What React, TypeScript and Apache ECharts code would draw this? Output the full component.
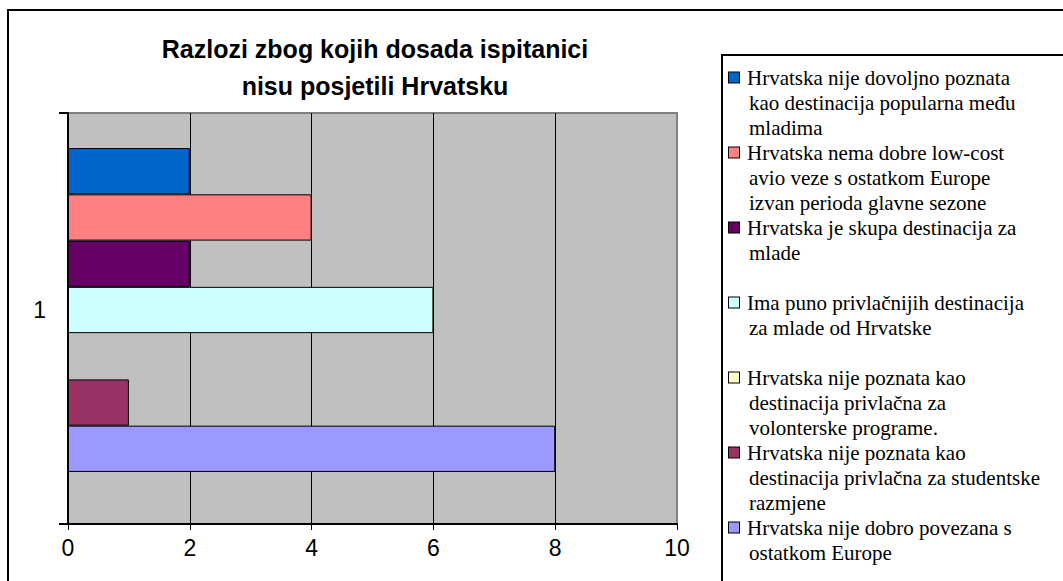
import React, { useEffect, useRef } from "react";
import * as echarts from "echarts";

const categories = ["1"];
const seriesNames = [
  "Hrvatska nije dovoljno poznata kao destinacija popularna među mladima",
  "Hrvatska nema dobre low-cost avio veze s ostatkom Europe izvan perioda glavne sezone",
  "Hrvatska je skupa destinacija za mlade",
  "Ima puno privlačnijih destinacija za mlade od Hrvatske",
  "Hrvatska nije poznata kao destinacija privlačna za volonterske programe.",
  "Hrvatska nije poznata kao destinacija privlačna za studentske razmjene",
  "Hrvatska nije dobro povezana s ostatkom Europe",
];
const legendLines = [
  ["Hrvatska nije dovoljno poznata", "kao destinacija popularna među", "mladima"],
  ["Hrvatska nema dobre low-cost", "avio veze s ostatkom Europe", "izvan perioda glavne sezone"],
  ["Hrvatska je skupa destinacija za", "mlade"],
  ["Ima puno privlačnijih destinacija", "za mlade od Hrvatske"],
  ["Hrvatska nije poznata kao", "destinacija privlačna za", "volonterske programe."],
  ["Hrvatska nije poznata kao", "destinacija privlačna za studentske", "razmjene"],
  ["Hrvatska nije dobro povezana s", "ostatkom Europe"],
];
const values = [2, 4, 2, 6, 0, 1, 8];
const colors = ["#0066CC", "#FF8080", "#660066", "#CCFFFF", "#FFFFCC", "#993366", "#9999FF"];
const xTicks = { min: 0, max: 10, interval: 2 };

export default function App() {
  const ref = useRef<HTMLDivElement>(null);
  useEffect(() => {
    const chart = echarts.init(ref.current!, null, { renderer: "svg" });
    const legendFont = "Liberation Serif";
    const legendSize = 21;
    const rich: any = {
      t: { fontFamily: legendFont, fontSize: legendSize, color: "#000", lineHeight: 25 },
      g: { width: 8, lineHeight: 25 },
      i: { width: 20, lineHeight: 25 },
    };
    colors.forEach((c, k) => {
      rich["m" + k] = {
        width: 10,
        height: 10,
        backgroundColor: c,
        borderColor: "#000",
        borderWidth: 1,
        lineHeight: 25,
      };
    });
    const labelFont = { fontFamily: "Liberation Sans", fontSize: 23, color: "#000" };
    const option: any = {
      animation: false,
      backgroundColor: "#fff",
      title: {
        text: "Razlozi zbog kojih dosada ispitanici\nnisu posjetili Hrvatsku",
        left: 370,
        top: 25,
        textAlign: "center",
        textStyle: {
          fontFamily: "Liberation Sans",
          fontWeight: "bold",
          fontSize: 25,
          lineHeight: 37,
          color: "#000",
        },
      },
      legend: {
        orient: "vertical",
        left: 723,
        top: 65,
        height: 900,
        padding: 0,
        itemGap: 0,
        itemWidth: 0,
        itemHeight: 14,
        icon: "rect",
        itemStyle: { opacity: 0 },
        selectedMode: false,
        data: seriesNames,
        formatter: (name: string) => {
          const k = seriesNames.indexOf(name);
          const lines = legendLines[k].slice();
          while (lines.length < 3) lines.push(" ");
          return lines
            .map((l, j) => (j === 0 ? `{m${k}|}{g|}{t|${l}}` : `{i|}{t|${l}}`))
            .join("\n");
        },
        textStyle: { fontFamily: legendFont, fontSize: legendSize, color: "#000", lineHeight: 25, rich },
      },
      grid: [
        {
          left: 68,
          top: 113,
          width: 609,
          height: 411,
          show: true,
          backgroundColor: "#C0C0C0",
          borderColor: "#808080",
          borderWidth: 2,
        },
        {
          left: 68,
          top: 113,
          width: 609,
          height: 394,
          show: false,
        },
      ],
      xAxis: [
        {
          type: "value",
          gridIndex: 0,
          min: xTicks.min,
          max: xTicks.max,
          interval: xTicks.interval,
          axisLine: { show: true, lineStyle: { color: "#000", width: 2 } },
          axisTick: { show: true, length: 6, lineStyle: { color: "#000", width: 1 } },
          axisLabel: { ...labelFont, margin: 12 },
          splitLine: { show: true, showMaxLine: false, lineStyle: { color: "#000", width: 1 } },
        },
        {
          type: "value",
          gridIndex: 1,
          min: xTicks.min,
          max: xTicks.max,
          interval: xTicks.interval,
          show: false,
        },
      ],
      yAxis: [
        {
          type: "category",
          gridIndex: 0,
          data: categories,
          inverse: true,
          axisLine: { show: true, lineStyle: { color: "#000", width: 2 } },
          axisTick: { show: true, length: 9, lineStyle: { color: "#000", width: 2 } },
          axisLabel: { show: false },
        },
        {
          type: "category",
          gridIndex: 1,
          data: categories,
          inverse: true,
          axisLine: { show: false },
          axisTick: { show: false },
          splitLine: { show: false },
          axisLabel: { ...labelFont, margin: 22 },
        },
      ],
      graphic: [
        {
          type: "rect",
          shape: { x: 8, y: 10, width: 1200, height: 700 },
          style: { fill: "none", stroke: "#000", lineWidth: 2 },
          silent: true,
          z: 100,
        },
        {
          type: "rect",
          shape: { x: 722, y: 55, width: 500, height: 700 },
          style: { fill: "none", stroke: "#000", lineWidth: 2 },
          silent: true,
          z: 100,
        },
      ],
      series: seriesNames.map((name, k) => ({
        name,
        type: "bar",
        xAxisIndex: 1,
        yAxisIndex: 1,
        data: [values[k]],
        barGap: "0%",
        barCategoryGap: "17.8%",
        itemStyle: { color: colors[k], borderColor: "#000", borderWidth: 1 },
      })),
    };
    chart.setOption(option);
    return () => chart.dispose();
  }, []);
  return (
    <div
      ref={ref}
      style={{ position: "fixed", left: 0, top: 0, width: 1063, height: 581, background: "#fff" }}
    />
  );
}
